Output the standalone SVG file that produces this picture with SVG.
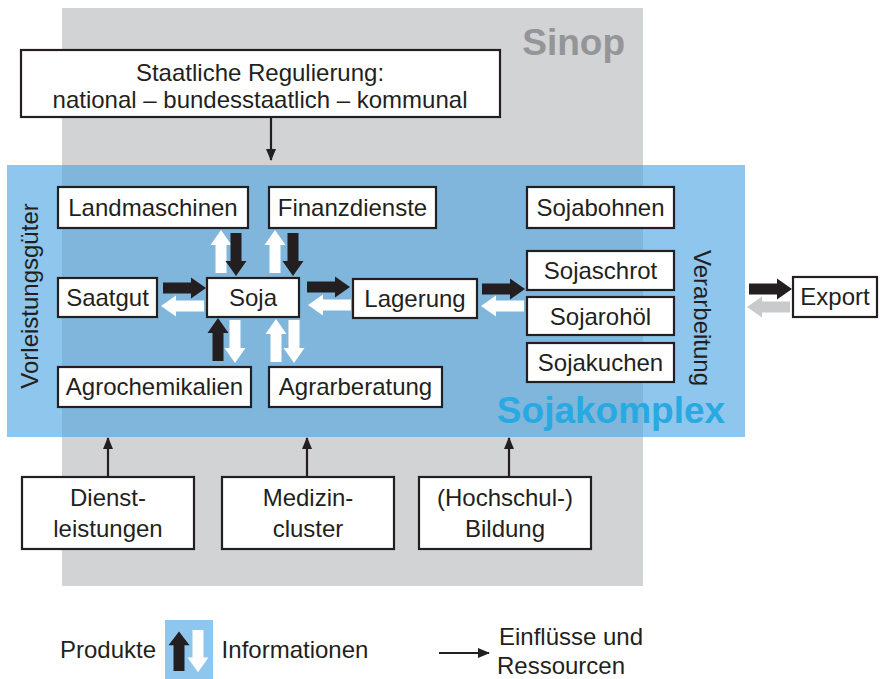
<svg xmlns="http://www.w3.org/2000/svg" width="880" height="679" viewBox="0 0 880 679">
<style>
.box{fill:#fff;stroke:#231f20;stroke-width:2.2}
.t{font-family:"Liberation Sans",Arial,sans-serif;font-size:24px;fill:#231f20;text-anchor:middle}
.thin{stroke:#231f20;stroke-width:2.2;fill:none;marker-end:url(#tri)}
.blk{fill:#231f20}
.wht{fill:#ffffff}
.gry{fill:#c9cacb}
</style>
<defs>
<marker id="tri" markerUnits="userSpaceOnUse" markerWidth="14" markerHeight="14" refX="11" refY="5" orient="auto">
<path d="M0,0 L12,5 L0,10 Z" fill="#231f20"/>
</marker>
<path id="ba" d="M0,-5.5 H28 V-10.5 L43,0 L28,10.5 V5.5 H0 Z"/>
</defs>

<!-- background regions -->
<rect x="62" y="8" width="581" height="578" fill="#d1d3d4"/>
<rect x="7" y="165" width="738" height="272" fill="#8ec6ed"/>
<rect x="62" y="165" width="581" height="272" fill="#80b5dc"/>
<text x="625" y="55" style="font-family:'Liberation Sans',Arial,sans-serif;font-size:37px;font-weight:bold;fill:#939598;text-anchor:end">Sinop</text>
<text x="611" y="423" style="font-family:'Liberation Sans',Arial,sans-serif;font-size:37px;font-weight:bold;fill:#29a9e1;text-anchor:middle">Sojakomplex</text>
<text class="t" transform="translate(38,296) rotate(-90)">Vorleistungsgüter</text>
<text class="t" transform="translate(694,318) rotate(90)">Verarbeitung</text>

<!-- connectors -->
<g id="connectors">
<line class="thin" x1="271" y1="118" x2="271" y2="160"/>
<line class="thin" x1="108" y1="477" x2="108" y2="438"/>
<line class="thin" x1="307" y1="477" x2="307" y2="438"/>
<line class="thin" x1="509" y1="477" x2="509" y2="438"/>
<!-- Landmaschinen / Soja -->
<use href="#ba" class="wht" transform="translate(221,273) rotate(-90)"/>
<use href="#ba" class="blk" transform="translate(236,233) rotate(90)"/>
<!-- Finanzdienste / Soja -->
<use href="#ba" class="wht" transform="translate(275,273) rotate(-90)"/>
<use href="#ba" class="blk" transform="translate(293,233) rotate(90)"/>
<!-- Saatgut / Soja -->
<use href="#ba" class="blk" transform="translate(163,288)"/>
<use href="#ba" class="wht" transform="translate(204,306) rotate(180)"/>
<!-- Soja / Lagerung -->
<use href="#ba" class="blk" transform="translate(307,287)"/>
<use href="#ba" class="wht" transform="translate(351,305) rotate(180)"/>
<!-- Lagerung / Sojaschrot -->
<use href="#ba" class="blk" transform="translate(482,289)"/>
<use href="#ba" class="wht" transform="translate(524,306) rotate(180)"/>
<!-- Soja / Agrochemikalien -->
<use href="#ba" class="blk" transform="translate(218,361) rotate(-90)"/>
<use href="#ba" class="wht" transform="translate(235,320) rotate(90)"/>
<!-- Soja / Agrarberatung -->
<use href="#ba" class="wht" transform="translate(276,362) rotate(-90)"/>
<use href="#ba" class="wht" transform="translate(294,320) rotate(90)"/>
<!-- Export -->
<use href="#ba" class="blk" transform="translate(749,289)"/>
<use href="#ba" class="gry" transform="translate(790,307) rotate(180)"/>
</g>

<!-- nodes -->
<g id="staat"><rect class="box" x="21" y="50" width="479" height="67"/>
<text class="t" x="260" y="81">Staatliche Regulierung:</text>
<text class="t" x="260" y="108">national – bundesstaatlich – kommunal</text></g>
<g id="landmaschinen"><rect class="box" x="58" y="187" width="190" height="41"/><text class="t" x="153" y="216">Landmaschinen</text></g>
<g id="finanzdienste"><rect class="box" x="269" y="187" width="167" height="41"/><text class="t" x="352.5" y="216">Finanzdienste</text></g>
<g id="sojabohnen"><rect class="box" x="527" y="187" width="147" height="41"/><text class="t" x="600.5" y="216">Sojabohnen</text></g>
<g id="saatgut"><rect class="box" x="58" y="278" width="99" height="39"/><text class="t" x="107.5" y="306">Saatgut</text></g>
<g id="soja"><rect class="box" x="207" y="278" width="92" height="39"/><text class="t" x="253" y="306">Soja</text></g>
<g id="lagerung"><rect class="box" x="353" y="279" width="124" height="39"/><text class="t" x="415" y="307">Lagerung</text></g>
<g id="sojaschrot"><rect class="box" x="527" y="251" width="147" height="39"/><text class="t" x="600.5" y="279">Sojaschrot</text></g>
<g id="sojarohoel"><rect class="box" x="527" y="297" width="147" height="38"/><text class="t" x="600.5" y="325">Sojarohöl</text></g>
<g id="sojakuchen"><rect class="box" x="527" y="343" width="147" height="39"/><text class="t" x="600.5" y="371">Sojakuchen</text></g>
<g id="agrochemikalien"><rect class="box" x="58" y="367" width="193" height="40"/><text class="t" x="154.5" y="395">Agrochemikalien</text></g>
<g id="agrarberatung"><rect class="box" x="269" y="367" width="173" height="40"/><text class="t" x="355.5" y="395">Agrarberatung</text></g>
<g id="export"><rect class="box" x="793" y="277" width="84" height="40"/><text class="t" x="835" y="305">Export</text></g>
<g id="dienstleistungen"><rect class="box" x="22" y="477" width="172" height="72"/>
<text class="t" x="108" y="506">Dienst-</text><text class="t" x="108" y="537">leistungen</text></g>
<g id="medizincluster"><rect class="box" x="222" y="477" width="172" height="72"/>
<text class="t" x="308" y="506">Medizin-</text><text class="t" x="308" y="537">cluster</text></g>
<g id="bildung"><rect class="box" x="419" y="477" width="172" height="72"/>
<text class="t" x="505" y="506">(Hochschul-)</text><text class="t" x="505" y="537">Bildung</text></g>

<!-- legend -->
<g id="legend">
<text class="t" x="108" y="658">Produkte</text>
<rect x="165" y="620" width="48" height="59" fill="#8ec6ed"/>
<use href="#ba" class="blk" transform="translate(179,671) rotate(-90) scale(0.92,1)"/>
<use href="#ba" class="wht" transform="translate(198,630) rotate(90) scale(0.98,1)"/>
<text class="t" x="295" y="658">Informationen</text>
<line class="thin" x1="439" y1="653" x2="489" y2="653"/>
<text class="t" x="571" y="645">Einflüsse und</text>
<text class="t" x="561" y="674">Ressourcen</text>
</g>
</svg>
